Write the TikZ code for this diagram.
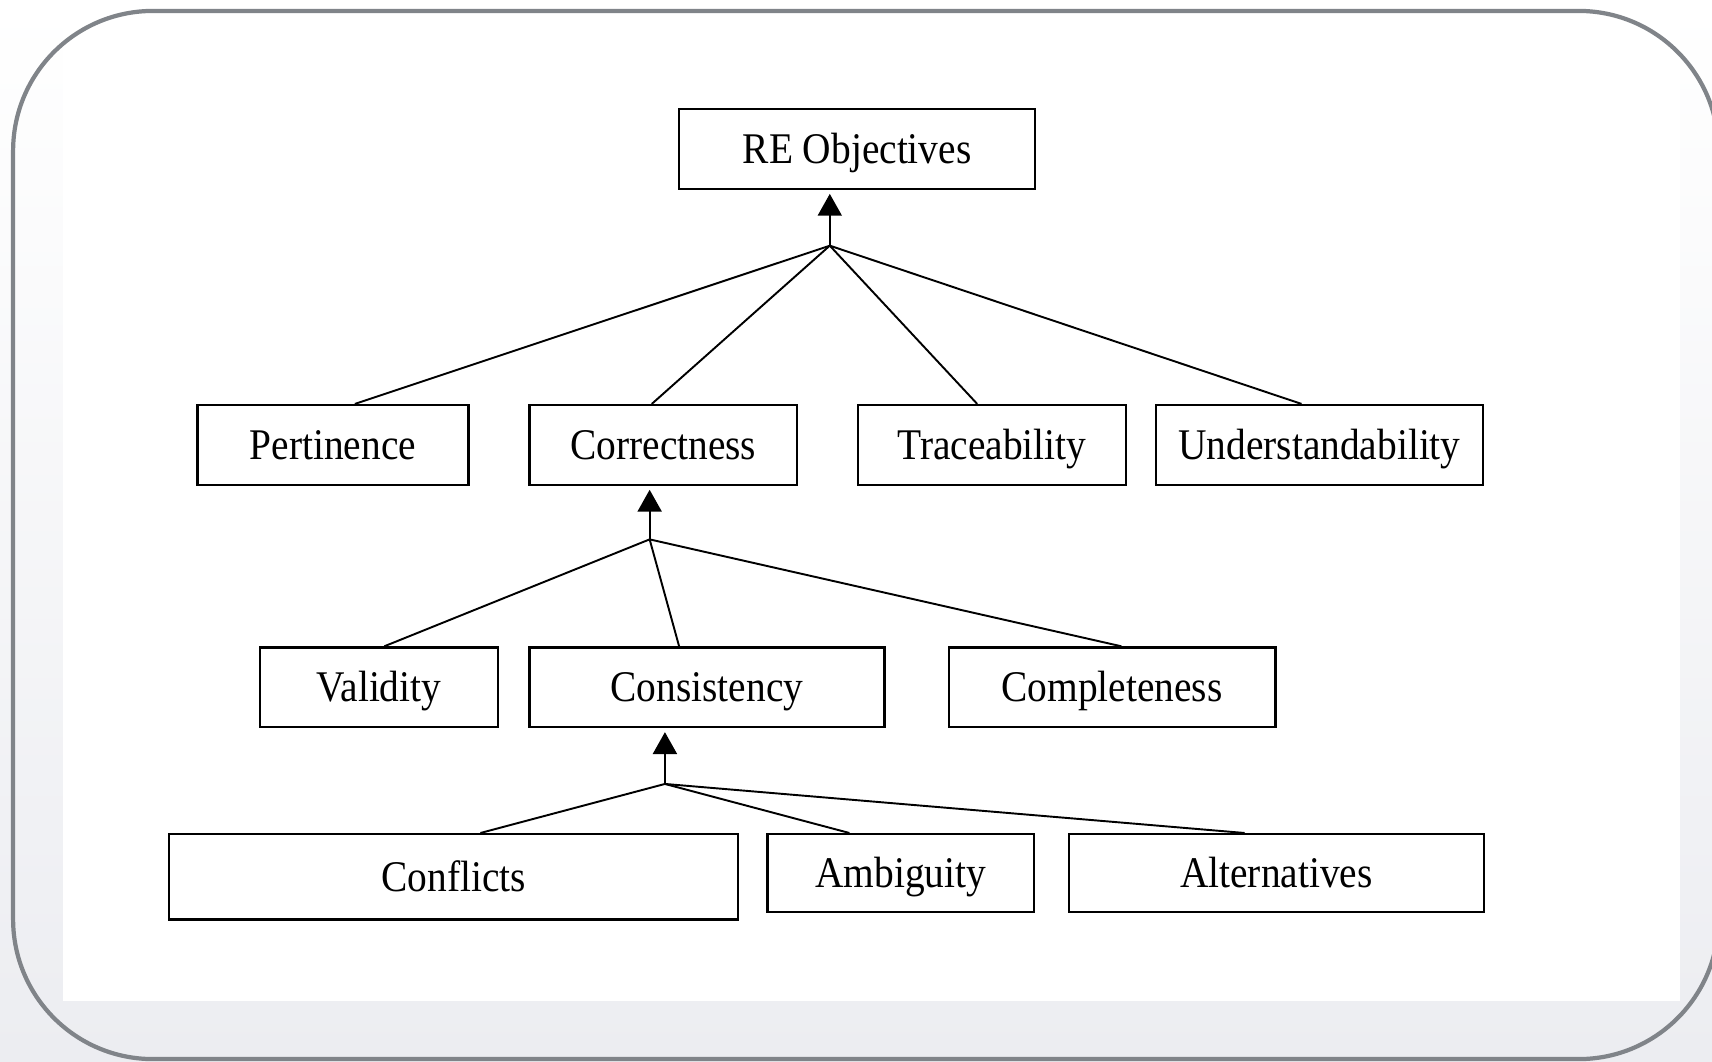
\documentclass[tikz,border=0pt]{standalone}
\usepackage{fontspec}
\setmainfont[FakeStretch=0.9]{Liberation Serif}
\usetikzlibrary{arrows.meta}
\definecolor{framegray}{HTML}{808489}
\definecolor{bggray}{HTML}{ECEDF1}
\tikzset{
  box/.style={draw=black, line width=0.6pt, fill=white, inner sep=0pt,
    text height=0.265cm, text depth=0pt,
    font=\fontsize{11.4}{13}\selectfont},
  link/.style={draw=black, line width=0.5pt},
  arr/.style={link, -{Triangle[width=0.22cm,length=0.2cm]}, shorten >=0.035cm}
}
\begin{document}
\begin{tikzpicture}[x=0.01cm,y=-0.01cm]
\useasboundingbox (0,0) rectangle (1568,972);
% background
\shade[bottom color=bggray, top color=white] (0,0) rectangle (1568,972);
\fill[white] (58,0) rectangle (1539,917);
\draw[framegray, line width=1.1pt, rounded corners=1.28cm] (12,10) rectangle (1574,970);

% level 0
\node[box, minimum width=3.26cm, minimum height=0.73cm] (re) at (785,136.5) {RE Objectives};
% level 1
\node[box, minimum width=2.48cm, minimum height=0.73cm] (pert) at (305,407.5) {Pertinence};
\node[box, minimum width=2.45cm, minimum height=0.73cm] (corr) at (607.5,407.5) {Correctness};
\node[box, minimum width=2.45cm, minimum height=0.73cm] (trace) at (908.5,407.5) {Traceability};
\node[box, minimum width=2.99cm, minimum height=0.73cm] (under) at (1208.5,407.5) {Understandability};
% level 2
\node[box, minimum width=2.18cm, minimum height=0.73cm] (valid) at (347,629.5) {Validity};
\node[box, minimum width=3.25cm, minimum height=0.73cm] (cons) at (647.5,629.5) {Consistency};
\node[box, minimum width=2.99cm, minimum height=0.73cm] (compl) at (1018.5,629.5) {Completeness};
% level 3
\node[box, minimum width=5.21cm, minimum height=0.78cm] (confl) at (415.5,803) {Conflicts};
\node[box, minimum width=2.44cm, minimum height=0.71cm] (ambig) at (825,799.5) {Ambiguity};
\node[box, minimum width=3.80cm, minimum height=0.71cm] (alter) at (1169,799.5) {Alternatives};

% junctions
\coordinate (j1) at (760,225);
\coordinate (j2) at (595,494);
\coordinate (j3) at (609,718);

% arrows to parents
\draw[arr] (j1) -- (j1 |- re.south);
\draw[arr] (j2) -- (j2 |- corr.south);
\draw[arr] (j3) -- (j3 |- cons.south);

% children links
\draw[link] (j1) -- ([xshift=0.2cm]pert.north);
\draw[link] (j1) -- ([xshift=-0.105cm]corr.north);
\draw[link] (j1) -- ([xshift=-0.135cm]trace.north);
\draw[link] (j1) -- ([xshift=-0.165cm]under.north);

\draw[link] (j2) -- ([xshift=0.05cm]valid.north);
\draw[link] (j2) -- ([xshift=-0.255cm]cons.north);
\draw[link] (j2) -- ([xshift=0.085cm]compl.north);

\draw[link] (j3) -- ([xshift=0.245cm]confl.north);
\draw[link] (j3) -- ([xshift=-0.47cm]ambig.north);
\draw[link] (j3) -- ([xshift=-0.29cm]alter.north);
\end{tikzpicture}
\end{document}
